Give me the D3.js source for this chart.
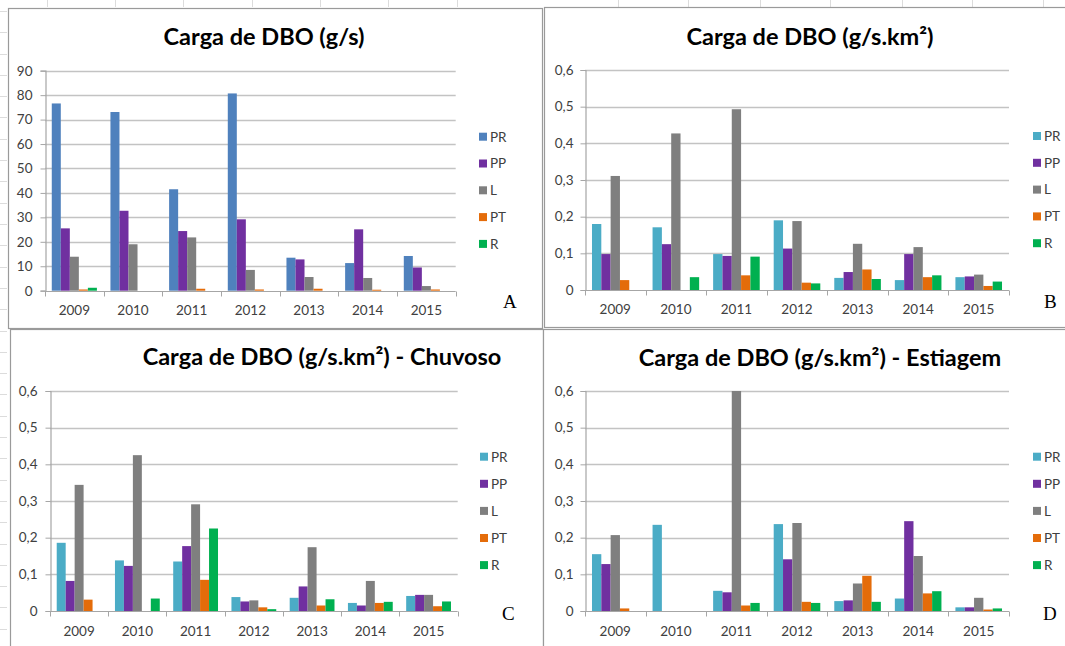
<!DOCTYPE html>
<html><head><meta charset="utf-8">
<script src="https://cdn.jsdelivr.net/npm/d3@7"></script>
<style>html,body{margin:0;padding:0;background:#fff;}svg{display:block;}</style>
</head><body>
<script>
// ---------- data ----------
const years = ["2009","2010","2011","2012","2013","2014","2015"];
const seriesNames = ["PR","PP","L","PT","R"];

// Panel A: Carga de DBO (g/s)
const aPR = [76.6, 73.1, 41.5, 80.7, 13.5, 11.3, 14.2];
const aPP = [25.5, 32.7, 24.4, 29.2, 12.8, 25.1, 9.5];
const aL  = [13.9, 19.0, 21.8, 8.5, 5.6, 5.2, 1.9];
const aPT = [0.5, 0, 0.8, 0.5, 0.8, 0.4, 0.5];
const aR  = [1.2, 0, 0, 0, 0, 0, 0];

// Panel B: Carga de DBO (g/s.km2)
const bPR = [0.180, 0.171, 0.098, 0.190, 0.033, 0.027, 0.035];
const bPP = [0.098, 0.125, 0.093, 0.113, 0.049, 0.098, 0.037];
const bL  = [0.311, 0.427, 0.493, 0.188, 0.126, 0.117, 0.042];
const bPT = [0.027, 0, 0.040, 0.020, 0.056, 0.035, 0.011];
const bR  = [0, 0.035, 0.091, 0.018, 0.030, 0.040, 0.023];

// Panel C: Chuvoso
const cPR = [0.186, 0.138, 0.135, 0.038, 0.036, 0.022, 0.041];
const cPP = [0.082, 0.123, 0.177, 0.026, 0.067, 0.015, 0.044];
const cL  = [0.344, 0.425, 0.291, 0.029, 0.174, 0.082, 0.044];
const cPT = [0.031, 0, 0.085, 0.010, 0.015, 0.022, 0.013];
const cR  = [0, 0.034, 0.225, 0.005, 0.032, 0.025, 0.026];

// Panel D: Estiagem
const dPR = [0.155, 0.235, 0.055, 0.237, 0.027, 0.034, 0.010];
const dPP = [0.128, 0, 0.051, 0.141, 0.029, 0.245, 0.010];
const dL  = [0.207, 0, 0.600, 0.240, 0.075, 0.150, 0.036];
const dPT = [0.007, 0, 0.015, 0.025, 0.096, 0.048, 0.004];
const dR  = [0, 0, 0.022, 0.022, 0.025, 0.054, 0.007];

const ticksA = [0,10,20,30,40,50,60,70,80,90];
const ticksB = [0,0.1,0.2,0.3,0.4,0.5,0.6];
const tickLabelsA = ["0","10","20","30","40","50","60","70","80","90"];
const tickLabelsB = ["0","0,1","0,2","0,3","0,4","0,5","0,6"];

const titleA = "Carga de DBO (g/s)";
const titleB = "Carga de DBO (g/s.km²)";
const titleC = "Carga de DBO (g/s.km²) - Chuvoso";
const titleD = "Carga de DBO (g/s.km²) - Estiagem";

// ---------- styles ----------
const colorsA = ["#4F81BD","#7030A0","#7F7F7F","#E46C0A","#00B050"];
const colorsB = ["#4BACC6","#7030A0","#7F7F7F","#E46C0A","#00B050"];
const FONT = "Lato, 'Open Sans', sans-serif";

const W = 1065, H = 646;
const svg = d3.select("body").append("svg").attr("width", W).attr("height", H);
svg.append("rect").attr("width", W).attr("height", H).attr("fill", "#fff");

// faint spreadsheet cell lines in the background
const bg = svg.append("g").attr("stroke", "#dcdcdc").attr("stroke-width", 1);
[47,115,183,252,320,388,457,618,688,760,830,902,972,1043].forEach(x=>{
  bg.append("line").attr("x1",x+0.5).attr("x2",x+0.5).attr("y1",0).attr("y2",7);
});
for (let y = 11; y < 646; y += 21.3) {
  bg.append("line").attr("x1",0).attr("x2",7).attr("y1",Math.round(y)+0.5).attr("y2",Math.round(y)+0.5);
}

// panel frames
const frames = [[8,8,542,328],[544,7,1070,327],[10,329,543,652],[543,329,1070,652]];
frames.forEach(f=>{
  svg.append("rect").attr("x",f[0]+0.5).attr("y",f[1]+0.5).attr("width",f[2]-f[0]).attr("height",f[3]-f[1])
    .attr("fill","#fff").attr("stroke","#9a9a9a").attr("stroke-width",1.2);
});

function drawPanel(cfg) {
  const g = svg.append("g");
  const vals = cfg.values;
  const rows = years.map((y,i)=>({year:y, vals: seriesNames.map((s,k)=>({s, v: vals[k][i], k}))}));
  const x0 = d3.scaleBand().domain(years).range([cfg.left, cfg.right]).padding(0);
  const cw = x0.bandwidth();
  const x1 = d3.scaleBand().domain(seriesNames).range([cw*0.75/6.5, cw*5.75/6.5]).padding(0);
  const y = d3.scaleLinear().domain([0, cfg.max]).range([cfg.bottom, cfg.top]);

  // gridlines
  g.append("g").selectAll("line").data(cfg.ticks.slice(1)).join("line")
    .attr("x1", cfg.left).attr("x2", cfg.right)
    .attr("y1", d=>Math.round(y(d))+0.5).attr("y2", d=>Math.round(y(d))+0.5)
    .attr("stroke", "#c3c3c3").attr("stroke-width", 1.3);

  // bars
  g.append("g").selectAll("g").data(rows).join("g")
    .attr("transform", d=>`translate(${x0(d.year)},0)`)
    .selectAll("rect").data(d=>d.vals.filter(e=>e.v>0)).join("rect")
    .attr("x", d=>x1(d.s)).attr("width", x1.bandwidth())
    .attr("y", d=>y(Math.min(d.v, cfg.max))).attr("height", d=>cfg.bottom - y(Math.min(d.v, cfg.max)))
    .attr("fill", d=>cfg.colors[d.k]);

  // y axis
  const yAxis = d3.axisLeft(y).tickValues(cfg.ticks).tickSize(5).tickFormat((d,i)=>cfg.tickLabels[i]);
  const ya = g.append("g").attr("transform", `translate(${Math.round(cfg.left)+0.5},0)`).call(yAxis);
  ya.select(".domain").attr("stroke", "#a6a6a6").attr("stroke-width", 1.2);
  ya.selectAll(".tick line").attr("stroke", "#a6a6a6");
  ya.selectAll(".tick text").attr("x", -(cfg.labelGap)).attr("fill", "#404040")
    .style("font-family", FONT).style("font-size", "13.5px");

  // x axis with ticks at category boundaries
  const xa = g.append("g").attr("transform", `translate(0,${Math.round(cfg.bottom)+0.5})`);
  xa.append("line").attr("x1", cfg.left).attr("x2", cfg.right).attr("stroke", "#a6a6a6").attr("stroke-width", 1.2);
  const bounds = years.map(yr=>x0(yr)).concat([cfg.right]);
  xa.selectAll("line.t").data(bounds).join("line").attr("class","t")
    .attr("x1", d=>Math.round(d)+0.5).attr("x2", d=>Math.round(d)+0.5).attr("y1", 0).attr("y2", 5)
    .attr("stroke", "#a6a6a6");
  xa.selectAll("text").data(years).join("text")
    .attr("x", d=>x0(d)+cw/2).attr("y", cfg.labelDy)
    .attr("text-anchor","middle").attr("fill","#404040")
    .style("font-family", FONT).style("font-size","13.5px").text(d=>d);

  // title
  g.append("text").attr("x", cfg.titleX).attr("y", cfg.titleY).attr("text-anchor","middle")
    .attr("fill","#000").style("font-family", FONT).style("font-weight","bold").style("font-size", "23.5px")
    .text(cfg.title);

  // legend
  const lg = g.append("g").selectAll("g").data(seriesNames).join("g")
    .attr("transform", (d,i)=>`translate(${cfg.legX},${cfg.legY + i*cfg.legStep})`);
  lg.append("rect").attr("x",0).attr("y",-4).attr("width",8).attr("height",8).attr("fill",(d,i)=>cfg.colors[i]);
  lg.append("text").attr("x", 11).attr("y", 0).attr("dy","0.36em").attr("fill","#404040")
    .style("font-family", FONT).style("font-size","13.5px").text(d=>d);

  // panel letter
  g.append("text").attr("x", cfg.letterX).attr("y", cfg.letterY).attr("fill","#000")
    .style("font-family","'Liberation Serif', 'Times New Roman', serif").style("font-size","19px").text(cfg.letter);
}

drawPanel({values:[aPR,aPP,aL,aPT,aR], colors:colorsA, max:90, ticks:ticksA, tickLabels:tickLabelsA,
  left:45, right:455.7, top:70.7, bottom:290.7, labelGap:13, labelDy:23,
  title:titleA, titleX:264, titleY:45, legX:479, legY:136.7, legStep:26.8, letter:"A", letterX:503, letterY:308});
drawPanel({values:[bPR,bPP,bL,bPT,bR], colors:colorsB, max:0.6, ticks:ticksB, tickLabels:tickLabelsB,
  left:585, right:1009, top:70, bottom:290, labelGap:12, labelDy:23,
  title:titleB, titleX:810, titleY:45, legX:1033, legY:136, legStep:26.8, letter:"B", letterX:1044, letterY:308});
drawPanel({values:[cPR,cPP,cL,cPT,cR], colors:colorsB, max:0.6, ticks:ticksB, tickLabels:tickLabelsB,
  left:50, right:457.7, top:391, bottom:611, labelGap:13, labelDy:24,
  title:titleC, titleX:322, titleY:365, legX:480, legY:456.7, legStep:27.1, letter:"C", letterX:502, letterY:620});
drawPanel({values:[dPR,dPP,dL,dPT,dR], colors:colorsB, max:0.6, ticks:ticksB, tickLabels:tickLabelsB,
  left:585, right:1009, top:391, bottom:611, labelGap:12, labelDy:24,
  title:titleD, titleX:820, titleY:366, legX:1033, legY:456.7, legStep:27.1, letter:"D", letterX:1043, letterY:620});
</script>
</body></html>
